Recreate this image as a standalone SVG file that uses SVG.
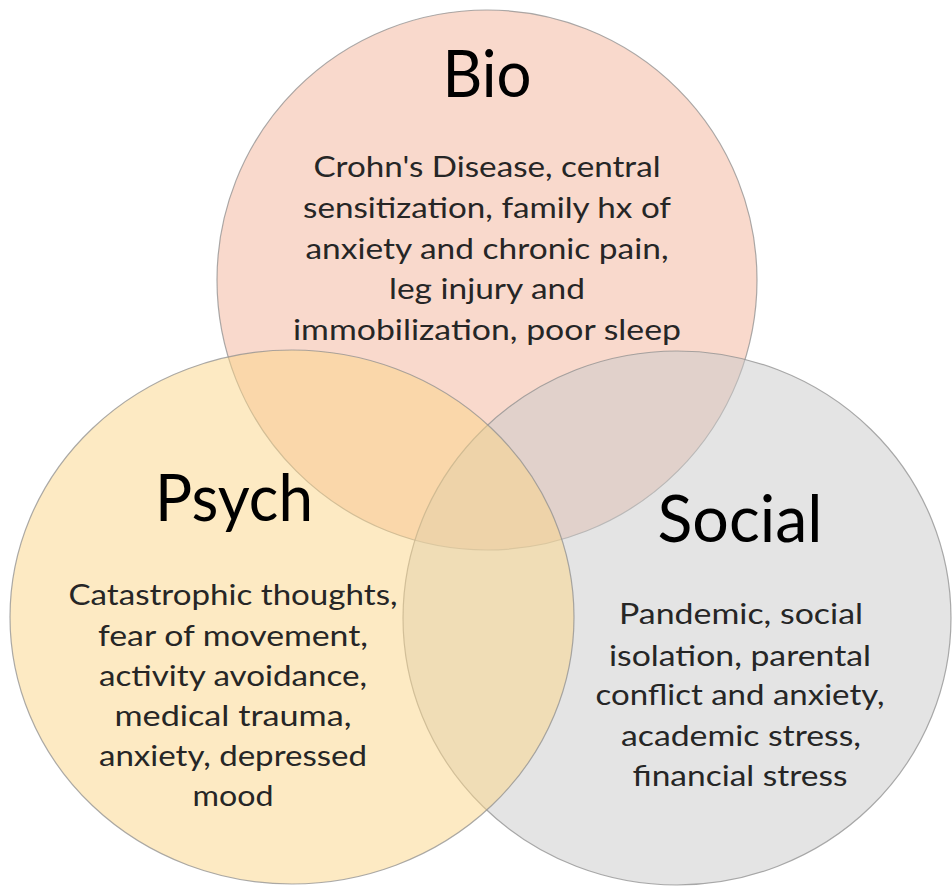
<svg xmlns="http://www.w3.org/2000/svg" width="952" height="886" viewBox="0 0 952 886">
  <style>
    .ring { stroke: #8f8f8f; stroke-width: 1.2; stroke-opacity: 0.75; fill-opacity: 0.5; }
    .title { font-family: Lato, "Open Sans", "Liberation Sans", sans-serif; font-size: 66px; fill: #000; text-anchor: middle; }
    .body { font-family: Lato, "Open Sans", "Liberation Sans", sans-serif; font-size: 29px; fill: #262626; text-anchor: middle; }
  </style>
  <rect width="952" height="886" fill="#ffffff"/>

  <!-- three overlapping, half-transparent sets -->
  <g id="bio">
    <ellipse class="ring" cx="487" cy="280" rx="270" ry="270" fill="#f3b399"/>
  </g>
  <g id="social">
    <ellipse class="ring" cx="677" cy="618" rx="274" ry="267" fill="#c9c9c9"/>
  </g>
  <g id="psych">
    <ellipse class="ring" cx="292" cy="617" rx="282" ry="267" fill="#fbd587"/>
  </g>

  <g id="connectors"></g>

  <!-- labels -->
  <g id="bio-text">
    <text class="title" x="487" y="97" textLength="89" lengthAdjust="spacingAndGlyphs">Bio</text>
    <text class="body" x="487" y="177" textLength="347" lengthAdjust="spacingAndGlyphs">Crohn's Disease, central</text>
    <text class="body" x="487" y="218" textLength="368" lengthAdjust="spacingAndGlyphs">sensitization, family hx of</text>
    <text class="body" x="487" y="259" textLength="363" lengthAdjust="spacingAndGlyphs">anxiety and chronic pain,</text>
    <text class="body" x="487" y="299" textLength="196" lengthAdjust="spacingAndGlyphs">leg injury and</text>
    <text class="body" x="487" y="340" textLength="388" lengthAdjust="spacingAndGlyphs">immobilization, poor sleep</text>
  </g>
  <g id="psych-text">
    <text class="title" x="234" y="521" textLength="158" lengthAdjust="spacingAndGlyphs">Psych</text>
    <text class="body" x="233" y="605" textLength="329" lengthAdjust="spacingAndGlyphs">Catastrophic thoughts,</text>
    <text class="body" x="233" y="646" textLength="270" lengthAdjust="spacingAndGlyphs">fear of movement,</text>
    <text class="body" x="233" y="686" textLength="268" lengthAdjust="spacingAndGlyphs">activity avoidance,</text>
    <text class="body" x="233" y="726" textLength="237" lengthAdjust="spacingAndGlyphs">medical trauma,</text>
    <text class="body" x="233" y="766" textLength="268" lengthAdjust="spacingAndGlyphs">anxiety, depressed</text>
    <text class="body" x="233" y="806" textLength="81" lengthAdjust="spacingAndGlyphs">mood</text>
  </g>
  <g id="social-text">
    <text class="title" x="740" y="542" textLength="165" lengthAdjust="spacingAndGlyphs">Social</text>
    <text class="body" x="741" y="624" textLength="244" lengthAdjust="spacingAndGlyphs">Pandemic, social</text>
    <text class="body" x="740" y="666" textLength="262" lengthAdjust="spacingAndGlyphs">isolation, parental</text>
    <text class="body" x="740" y="705" textLength="289" lengthAdjust="spacingAndGlyphs">conflict and anxiety,</text>
    <text class="body" x="741" y="746" textLength="240" lengthAdjust="spacingAndGlyphs">academic stress,</text>
    <text class="body" x="740" y="786" textLength="215" lengthAdjust="spacingAndGlyphs">financial stress</text>
  </g>
</svg>
